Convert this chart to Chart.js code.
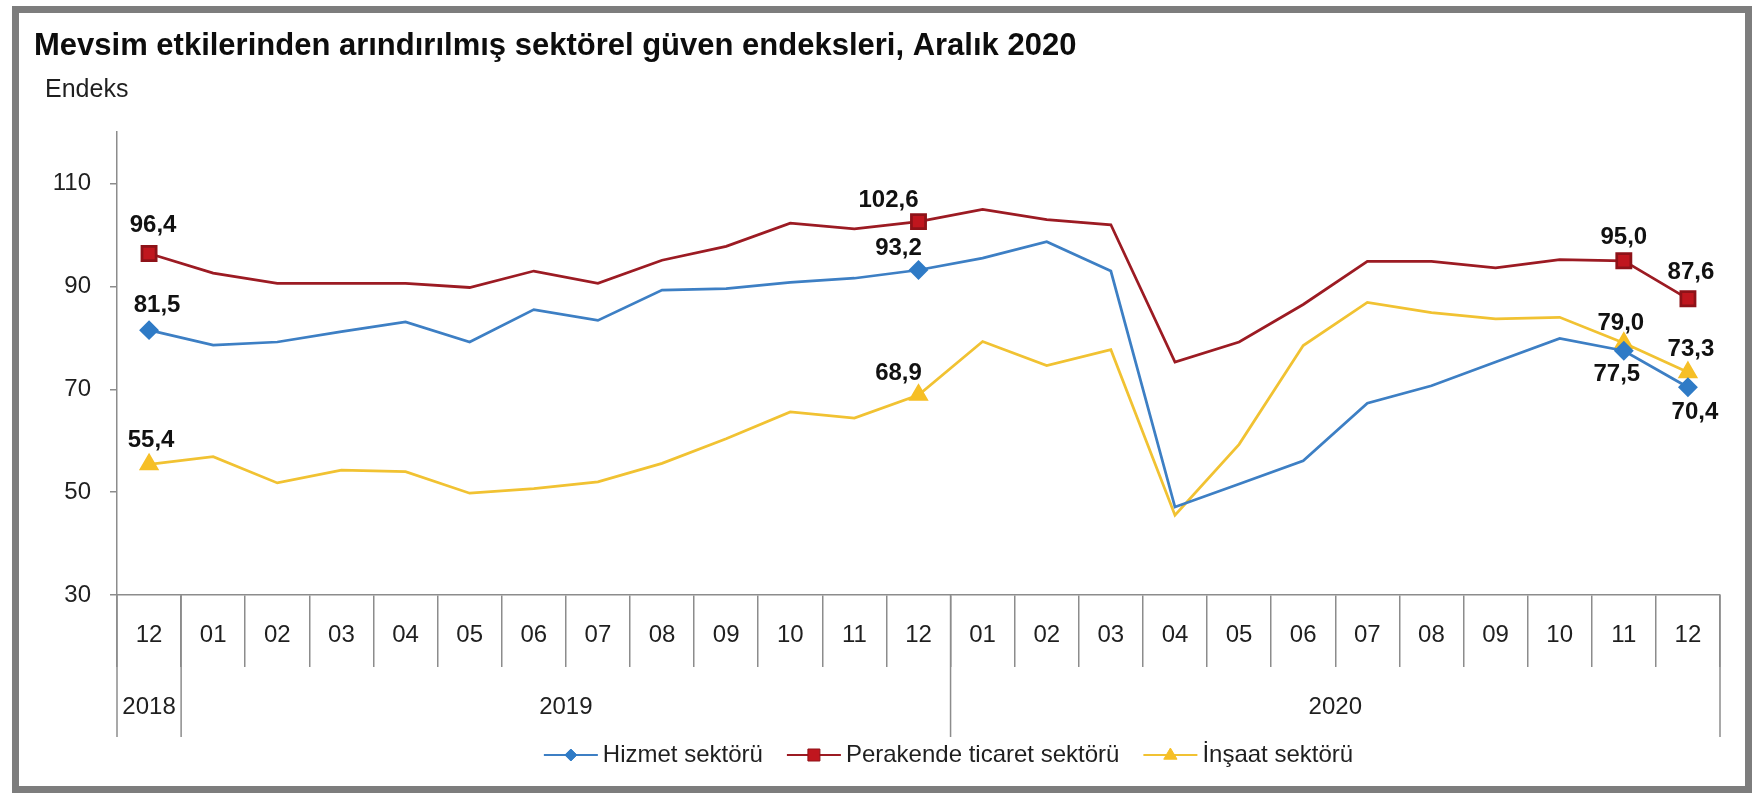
<!DOCTYPE html>
<html>
<head>
<meta charset="utf-8">
<script src="https://cdn.jsdelivr.net/npm/chart.js@4/dist/chart.umd.min.js"></script>
<style>
  html, body { margin: 0; padding: 0; background: #fff; }
  #wrap { position: relative; width: 1757px; height: 800px; }
  #frame {
    position: absolute; left: 12px; top: 6px; width: 1740px; height: 787px;
    box-sizing: border-box; border: 7px solid #7d7d7d; pointer-events: none;
  }
</style>
</head>
<body>
<div id="wrap">
  <canvas id="myChart"></canvas>
  <div id="frame"></div>
</div>
<script>
const months = ['12', '01', '02', '03', '04', '05', '06', '07', '08', '09', '10', '11', '12',
                '01', '02', '03', '04', '05', '06', '07', '08', '09', '10', '11', '12'];
const years = ['2018', '2019', '2020'];
const monthsPerYear = [1, 12, 12];
const yTicks = [30, 50, 70, 90, 110];

const hizmet = [81.5, 78.6, 79.2, 81.2, 83.1, 79.2, 85.5, 83.4, 89.3, 89.6, 90.8, 91.6, 93.2,
                95.5, 98.7, 93.0, 47.1, 51.6, 56.1, 67.3, 70.7, 75.3, 79.9, 77.5, 70.4];
const perakende = [96.4, 92.6, 90.6, 90.6, 90.6, 89.8, 93.0, 90.6, 95.1, 97.8, 102.3, 101.2, 102.6,
                   105.0, 103.0, 102.0, 75.3, 79.2, 86.5, 94.9, 94.9, 93.6, 95.2, 95.0, 87.6];
const insaat = [55.4, 56.9, 51.8, 54.3, 54.0, 49.8, 50.7, 52.0, 55.6, 60.4, 65.6, 64.4, 68.9,
                79.3, 74.6, 77.7, 45.5, 59.3, 78.5, 86.9, 84.9, 83.7, 84.0, 79.0, 73.3];

// points that carry a marker and a value label
const labelled = [0, 12, 23, 24];

const FONT = "'Liberation Sans', Arial, sans-serif";
Chart.defaults.font.family = FONT;
Chart.defaults.color = '#1f1f1f';

function markerRadius(r) {
  return ctx => labelled.includes(ctx.dataIndex) ? r : 0;
}

function drawMarker(ctx, style, x, y, r, fill, stroke) {
  ctx.save();
  ctx.fillStyle = fill;
  ctx.strokeStyle = stroke;
  ctx.lineWidth = 1;
  ctx.beginPath();
  if (style === 'rect') {
    ctx.rect(x - r, y - r, 2 * r, 2 * r);
  } else if (style === 'rectRot') {
    ctx.moveTo(x, y - r); ctx.lineTo(x + r, y); ctx.lineTo(x, y + r); ctx.lineTo(x - r, y);
    ctx.closePath();
  } else {
    ctx.moveTo(x, y - r); ctx.lineTo(x + r * 0.95, y + r * 0.6); ctx.lineTo(x - r * 0.95, y + r * 0.6);
    ctx.closePath();
  }
  ctx.fill();
  ctx.stroke();
  ctx.restore();
}

const decor = {
  id: 'decor',
  afterDatasetsDraw(chart) {
    const ctx = chart.ctx;
    ctx.save();
    ctx.font = 'bold 24px ' + FONT;
    ctx.fillStyle = '#111';
    ctx.textAlign = 'center';
    ctx.textBaseline = 'middle';
    chart.data.datasets.forEach((ds, i) => {
      const meta = chart.getDatasetMeta(i);
      labelled.forEach((idx, k) => {
        const pt = meta.data[idx];
        const off = ds.labelOffsets[k];
        const txt = ds.data[idx].toFixed(1).replace('.', ',');
        ctx.fillText(txt, pt.x + off[0], pt.y + off[1]);
      });
    });
    ctx.restore();
  },
  afterDraw(chart) {
    const ctx = chart.ctx;
    const xs = chart.scales.x;
    const area = chart.chartArea;
    const step = xs.getPixelForValue(1) - xs.getPixelForValue(0);
    const edge = b => xs.getPixelForValue(0) - step / 2 + b * step;

    ctx.save();
    // y axis caption
    ctx.font = '25px ' + FONT;
    ctx.fillStyle = '#1f1f1f';
    ctx.textAlign = 'left';
    ctx.textBaseline = 'middle';
    ctx.fillText('Endeks', area.left - 72, area.top - 42);

    // year separators and year labels
    ctx.strokeStyle = '#8c8c8c';
    ctx.lineWidth = 1.5;
    ctx.font = '24px ' + FONT;
    ctx.textAlign = 'center';
    let b = 0;
    const bounds = [0];
    monthsPerYear.forEach(n => { b += n; bounds.push(b); });
    bounds.forEach(bi => {
      const px = edge(bi);
      ctx.beginPath();
      ctx.moveTo(px, xs.top);
      ctx.lineTo(px, xs.top + 142);
      ctx.stroke();
    });
    years.forEach((yr, i) => {
      const cx = (edge(bounds[i]) + edge(bounds[i + 1])) / 2;
      ctx.fillText(yr, cx, xs.top + 112);
    });

    // legend
    const lineLen = 54, gap = 5, itemGap = 24;
    const items = chart.data.datasets.map(ds => ({
      ds, w: lineLen + gap + ctx.measureText(ds.label).width
    }));
    const total = items.reduce((s, it) => s + it.w, 0) + itemGap * (items.length - 1);
    let lx = (area.left + area.right) / 2 + 30 - total / 2;
    const ly = xs.top + 160;
    ctx.textAlign = 'left';
    items.forEach(it => {
      const ds = it.ds;
      ctx.strokeStyle = ds.borderColor;
      ctx.lineWidth = 2;
      ctx.beginPath();
      ctx.moveTo(lx, ly);
      ctx.lineTo(lx + lineLen, ly);
      ctx.stroke();
      drawMarker(ctx, ds.pointStyle, lx + lineLen / 2, ly, ds.legendMarker,
                 ds.pointBackgroundColor, ds.pointBorderColor);
      ctx.fillStyle = '#1f1f1f';
      ctx.fillText(ds.label, lx + lineLen + gap, ly);
      lx += it.w + itemGap;
    });
    ctx.restore();
  }
};

const ctx = document.getElementById('myChart').getContext('2d');

new Chart(ctx, {
  type: 'line',
  data: {
    labels: months,
    datasets: [
      {
        label: 'Hizmet sektörü',
        data: hizmet,
        borderColor: '#3d7fc4',
        borderWidth: 2.75,
        pointStyle: 'rectRot',
        pointRadius: markerRadius(8),
        pointBackgroundColor: '#2f7bc6',
        pointBorderColor: '#2f7bc6',
        legendMarker: 6,
        labelOffsets: [[8, -25], [-20, -22], [-7, 24], [7, 25]]
      },
      {
        label: 'Perakende ticaret sektörü',
        data: perakende,
        borderColor: '#9c1b23',
        borderWidth: 2.75,
        pointStyle: 'rect',
        pointRadius: markerRadius(10),
        pointBackgroundColor: '#c0161e',
        pointBorderColor: '#8e1218',
        legendMarker: 6,
        labelOffsets: [[4, -28], [-30, -21], [0, -23], [3, -26]]
      },
      {
        label: 'İnşaat sektörü',
        data: insaat,
        borderColor: '#f1c232',
        borderWidth: 2.75,
        pointStyle: 'triangle',
        pointRadius: markerRadius(9),
        pointBackgroundColor: '#f6bf26',
        pointBorderColor: '#f6bf26',
        legendMarker: 7,
        labelOffsets: [[2, -24], [-20, -22], [-3, -20], [3, -23]]
      }
    ]
  },
  options: {
    responsive: true,
    maintainAspectRatio: false,
    animation: false,
    layout: { padding: { left: 34, right: 37, top: 8, bottom: 15 } },
    elements: { line: { tension: 0 }, point: { borderWidth: 1, hoverRadius: 0 } },
    scales: {
      x: {
        offset: true,
        grid: { offset: true, drawOnChartArea: false, tickLength: 72, color: '#8c8c8c', lineWidth: 1.5 },
        border: { color: '#8c8c8c', width: 1.5 },
        ticks: { autoSkip: false, maxRotation: 0, padding: -46, font: { size: 24 }, color: '#1f1f1f' },
        afterFit: s => { s.height = 190; }
      },
      y: {
        min: 30,
        max: 120,
        grid: { drawOnChartArea: false, tickLength: 7, color: '#8c8c8c', lineWidth: 1.5 },
        border: { color: '#8c8c8c', width: 1.5 },
        ticks: { padding: 19, font: { size: 24 }, color: '#1f1f1f' },
        afterBuildTicks: s => { s.ticks = yTicks.map(v => ({ value: v })); },
        afterFit: s => { s.width = 83; }
      }
    },
    plugins: {
      legend: { display: false },
      tooltip: { enabled: false },
      title: {
        display: true,
        text: 'Mevsim etkilerinden arındırılmış sektörel güven endeksleri, Aralık 2020',
        align: 'start',
        color: '#0d0d0d',
        font: { size: 31, weight: 'bold' },
        padding: { top: 20, bottom: 67 }
      }
    }
  },
  plugins: [decor]
});
</script>
</body>
</html>
